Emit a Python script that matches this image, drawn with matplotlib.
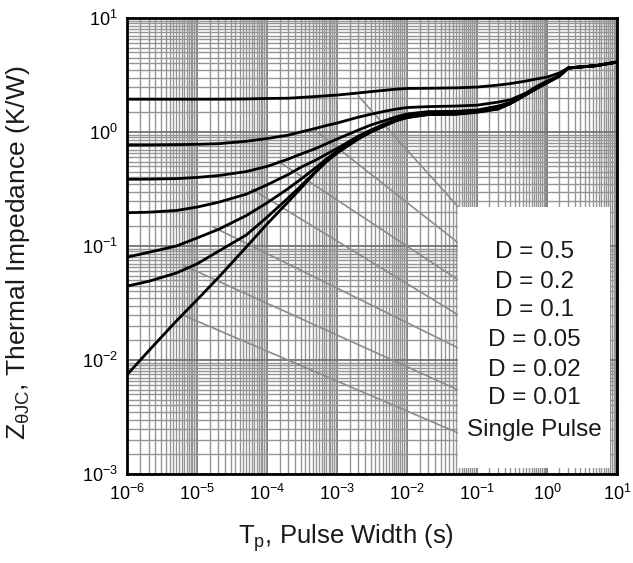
import numpy as np
import matplotlib.pyplot as plt
from matplotlib.ticker import LogLocator, NullFormatter
from matplotlib.patches import Rectangle

plt.rcParams['font.family'] = ['Liberation Sans', 'DejaVu Sans']
plt.rcParams['mathtext.fontset'] = 'custom'
plt.rcParams['mathtext.rm'] = 'Liberation Sans'
plt.rcParams['mathtext.it'] = 'Liberation Sans:italic'
plt.rcParams['mathtext.bf'] = 'Liberation Sans:bold'

# pulse width samples (s)
tp = [1e-6, 2e-6, 5e-6, 1e-5, 2e-5, 5e-5, 1e-4, 2e-4, 3e-4, 5e-4, 7e-4,
      1e-3, 2e-3, 3e-3, 5e-3, 7e-3, 1e-2, 2e-2, 5e-2, 0.1, 0.2, 0.3,
      0.5, 0.7, 1, 1.5, 2, 3, 5, 10]

# thermal impedance (K/W)
z_d50 = [1.94, 1.94, 1.94, 1.94, 1.94, 1.95, 1.97, 1.98, 2.01, 2.05, 2.08,
         2.11, 2.20, 2.26, 2.33, 2.38, 2.41, 2.42, 2.44, 2.48, 2.58, 2.66,
         2.80, 2.92, 3.03, 3.30, 3.64, 3.72, 3.82, 4.11]
z_d20 = [0.77, 0.77, 0.775, 0.78, 0.79, 0.83, 0.877, 0.94, 1.00, 1.08, 1.14,
         1.20, 1.35, 1.43, 1.53, 1.59, 1.64, 1.67, 1.69, 1.72, 1.83, 1.92,
         2.20, 2.50, 2.80, 3.12, 3.64, 3.72, 3.82, 4.11]
z_d10 = [0.385, 0.386, 0.39, 0.40, 0.415, 0.45, 0.50, 0.58, 0.64, 0.72, 0.79,
         0.87, 1.04, 1.15, 1.27, 1.36, 1.44, 1.51, 1.52, 1.56, 1.69, 1.82,
         2.16, 2.45, 2.75, 3.11, 3.64, 3.72, 3.82, 4.11]
z_d05 = [0.196, 0.198, 0.205, 0.22, 0.242, 0.285, 0.345, 0.425, 0.49, 0.57, 0.64,
         0.72, 0.92, 1.04, 1.19, 1.29, 1.38, 1.46, 1.47, 1.52, 1.62, 1.79,
         2.14, 2.42, 2.72, 3.10, 3.64, 3.72, 3.82, 4.11]
z_d02 = [0.08, 0.088, 0.10, 0.118, 0.14, 0.185, 0.24, 0.32, 0.385, 0.49, 0.58,
         0.68, 0.89, 1.01, 1.16, 1.27, 1.35, 1.44, 1.45, 1.51, 1.61, 1.78,
         2.13, 2.41, 2.71, 3.10, 3.64, 3.72, 3.82, 4.11]
z_d01 = [0.0446, 0.049, 0.058, 0.07, 0.09, 0.125, 0.18, 0.265, 0.335, 0.455, 0.555,
         0.665, 0.875, 1.0, 1.15, 1.26, 1.34, 1.43, 1.44, 1.50, 1.60, 1.78,
         2.13, 2.40, 2.70, 3.10, 3.64, 3.72, 3.82, 4.11]
z_single = [0.0075, 0.012, 0.022, 0.034, 0.053, 0.098, 0.157, 0.245, 0.32, 0.45, 0.55,
            0.655, 0.868, 1.0, 1.15, 1.26, 1.34, 1.42, 1.43, 1.49, 1.59, 1.78,
            2.13, 2.40, 2.70, 3.10, 3.64, 3.72, 3.82, 4.11]

labels = ['D = 0.5', 'D = 0.2', 'D = 0.1', 'D = 0.05', 'D = 0.02', 'D = 0.01', 'Single Pulse']
curves = [z_d50, z_d20, z_d10, z_d05, z_d02, z_d01, z_single]

# leader lines: point on each curve -> legend box edge
lead_t = [2.0e-3, 4.8e-4, 1.42e-4, 6.0e-5, 1.67e-5, 6.2e-6, 6.2e-6]
lead_z = [2.07, 1.04, 0.557, 0.316, 0.147, 0.068, 0.0248]
lead_end = [0.5855, 0.5066, 0.4254, 0.3487, 0.2763, 0.1842, 0.0899]
label_y = [0.487, 0.421, 0.360, 0.294, 0.228, 0.167, 0.096]

fig = plt.figure(figsize=(6.33, 5.63), dpi=100)
ax = fig.add_axes([0.2014, 0.158, 0.7733, 0.81])

ax.set_xscale('log')
ax.set_yscale('log')
ax.set_xlim(1e-6, 10)
ax.set_ylim(1e-3, 10)

for axis in (ax.xaxis, ax.yaxis):
    axis.set_major_locator(LogLocator(base=10, numticks=20))
    axis.set_minor_locator(LogLocator(base=10, subs=np.arange(1.5, 10, 0.5), numticks=200))
    axis.set_minor_formatter(NullFormatter())

ax.set_axisbelow(True)
ax.grid(which='major', color='0.45', lw=1.3)
ax.grid(which='minor', color='0.58', lw=1.0)
ax.tick_params(which='both', length=0)
ax.tick_params(axis='x', pad=7, labelsize=13)
ax.tick_params(axis='y', pad=7, labelsize=13)

for sp in ax.spines.values():
    sp.set_linewidth(2)
    sp.set_color('black')
    sp.set_zorder(10)

# leader lines
for t0, z0, ye in zip(lead_t, lead_z, lead_end):
    ax.annotate('', xy=(t0, z0), xycoords='data', xytext=(0.676, ye),
                textcoords='axes fraction',
                arrowprops=dict(arrowstyle='-', color='0.55', lw=1.2,
                                shrinkA=0, shrinkB=0), zorder=2)

# curves
for z in curves:
    ax.plot(tp, z, color='black', lw=2, zorder=5, solid_joinstyle='round')

# legend box
ax.add_patch(Rectangle((0.676, 0.013), 0.31, 0.573, transform=ax.transAxes,
                       facecolor='white', edgecolor='none', zorder=4))
for lab, y in zip(labels, label_y):
    ax.text(0.832, y, lab, transform=ax.transAxes, ha='center', va='center',
            fontsize=17.5, color='#1a1a1a', zorder=6)

ax.set_xlabel(r'T$_{\mathrm{p}}$, Pulse Width (s)', fontsize=18.5, color='#1a1a1a')
ax.set_ylabel(r'Z$_{\mathrm{\theta JC}}$, Thermal Impedance (K/W)', fontsize=19, color='#1a1a1a')
ax.xaxis.set_label_coords(0.446, -0.105)
ax.yaxis.set_label_coords(-0.195, 0.485)

fig.savefig('out.png', dpi=100)
